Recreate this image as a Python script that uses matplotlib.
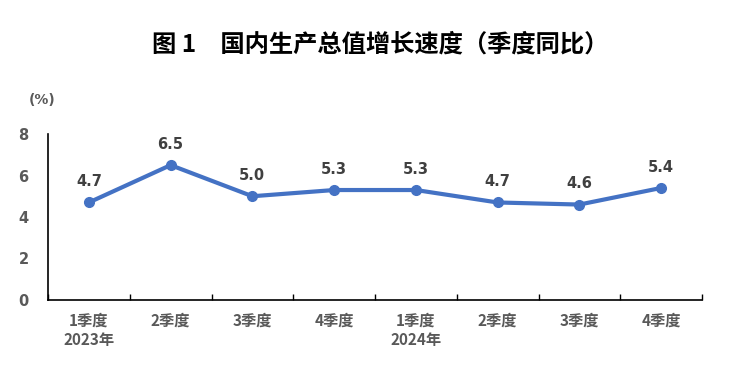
import matplotlib
matplotlib.use("Agg")
import matplotlib.pyplot as plt
import numpy as np

plt.rcParams['font.family'] = ['Noto Sans CJK SC', 'DejaVu Sans']

categories = ["1季度\n2023年", "2季度", "3季度", "4季度", "1季度\n2024年", "2季度", "3季度", "4季度"]
values = [4.7, 6.5, 5.0, 5.3, 5.3, 4.7, 4.6, 5.4]
yticks = [0, 2, 4, 6, 8]

fig = plt.figure(figsize=(7.42, 3.77), dpi=100)
ax = fig.add_axes([48/742, 1-300/377, (702-48)/742, (300-134)/377])

x = np.arange(len(values))
ax.plot(x, values, color='#4472C4', lw=3, marker='o', ms=7, solid_capstyle='round')
for xi, v in zip(x, values):
    ax.annotate(f"{v:.1f}", (xi, v), xytext=(0, 15), textcoords='offset points',
                ha='center', va='center', fontsize=10.5, fontweight='bold', color='#404040',
                family=['DejaVu Sans'])

ax.set_xlim(-0.5, len(values) - 0.5)
ax.set_ylim(0, 8)
for s in ['top', 'right']:
    ax.spines[s].set_visible(False)
ax.spines['left'].set_linewidth(1.2)
ax.spines['bottom'].set_linewidth(1.2)

ax.set_xticks(np.arange(len(values) + 1) - 0.5)
ax.set_xticklabels([])
ax.tick_params(axis='x', which='major', direction='in', length=4, width=1)
ax.set_xticks(x, minor=True)
ax.set_xticklabels(categories, minor=True, fontsize=11, fontweight='bold', color='#595959',
                   linespacing=1.3)
ax.tick_params(axis='x', which='minor', length=0, pad=9)

ax.set_yticks(yticks)
ax.set_yticklabels([str(t) for t in yticks], fontsize=10.5, fontweight='bold', color='#595959',
                   family=['DejaVu Sans'])
ax.tick_params(axis='y', length=0, pad=14)

fig.text(42/742, 1-100/377, "(%)", ha='center', va='center', fontsize=10,
         fontweight='bold', color='#595959', family=['DejaVu Sans'])
fig.text(380/742, 1-45/377, "图 1　国内生产总值增长速度（季度同比）", ha='center', va='center',
         fontsize=17.5, fontweight='bold', color='#000000')

fig.savefig("out.png", dpi=100, facecolor='white')
